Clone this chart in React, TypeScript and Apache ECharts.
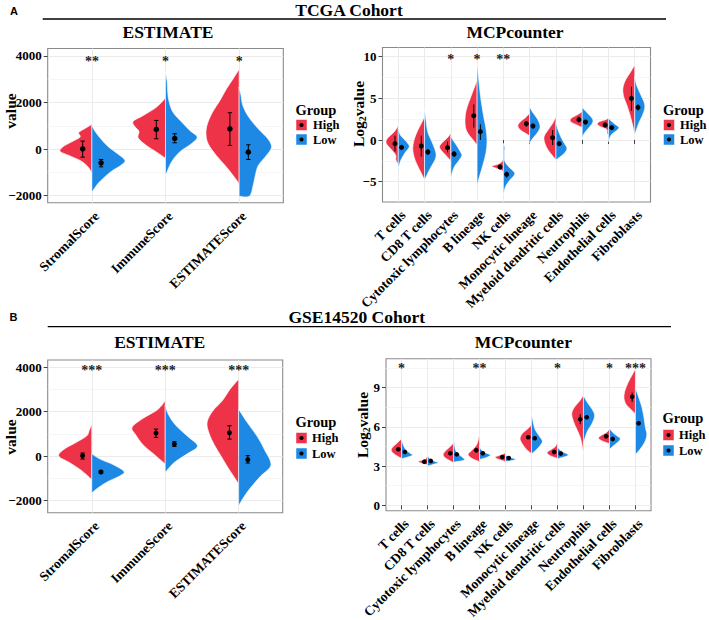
import React, { useEffect, useRef } from 'react';
import * as echarts from 'echarts';

// ---------- categories ----------
const estCats = ['StromalScore', 'ImmuneScore', 'ESTIMATEScore'];
const mcpCats = [
  'T cells', 'CD8 T cells', 'Cytotoxic lymphocytes', 'B lineage', 'NK cells',
  'Monocytic lineage', 'Myeloid dendritic cells', 'Neutrophils', 'Endothelial cells', 'Fibroblasts',
];
const groupNames = ['High', 'Low'];

// ---------- violin outlines: [value, half width in category units], bottom to top ----------
// TCGA / ESTIMATE
const tcgaEstHighShape = [
  [[-1018, 0], [-731, 0.06], [-488, 0.16], [-272, 0.31], [-100, 0.43], [86, 0.4], [301, 0.28], [516, 0.16], [703, 0.18], [875, 0.1], [1061, 0]],
  [[-387, 0], [-129, 0.12], [158, 0.26], [473, 0.37], [760, 0.36], [946, 0.41], [1190, 0.44], [1448, 0.3], [1807, 0.12], [2194, 0]],
  [[-1491, 0], [-1133, 0.08], [-703, 0.19], [-272, 0.31], [229, 0.42], [660, 0.45], [1090, 0.43], [1592, 0.36], [2094, 0.26], [2596, 0.17], [3026, 0.08], [3427, 0]],
];
const tcgaEstLowShape = [
  [[-1850, 0], [-1491, 0.08], [-1205, 0.17], [-918, 0.28], [-703, 0.39], [-488, 0.45], [-201, 0.35], [86, 0.23], [373, 0.14], [731, 0.05], [1018, 0]],
  [[-1133, 0], [-559, 0.08], [-129, 0.19], [229, 0.35], [516, 0.43], [803, 0.33], [1162, 0.22], [1592, 0.1], [2094, 0.045], [2452, 0.03], [2900, 0.022], [3313, 0]],
  [[-2022, 0], [-2022, 0.14], [-1563, 0.19], [-1133, 0.22], [-703, 0.26], [-272, 0.37], [86, 0.44], [445, 0.39], [875, 0.26], [1377, 0.13], [1879, 0.05], [2309, 0.025], [2667, 0]],
];
const tcgaEstHighMean = [14, 846, 875];
const tcgaEstHighLo = [-344, 445, 158];
const tcgaEstHighHi = [344, 1233, 1563];
const tcgaEstLowMean = [-588, 459, -129];
const tcgaEstLowLo = [-760, 272, -445];
const tcgaEstLowHi = [-445, 660, 186];
const tcgaEstStars = ['**', '*', '*'];

// TCGA / MCPcounter
const tcgaMcpHighShape = [
  [[-2.92, 0], [-2.4, 0.09], [-1.8, 0.1], [-1.08, 0.28], [-0.4, 0.46], [0.2, 0.41], [1.0, 0.15], [1.72, 0]],
  [[-4.8, 0], [-4.0, 0.12], [-3.0, 0.28], [-2.0, 0.4], [-1.0, 0.45], [0, 0.4], [1.0, 0.28], [2.0, 0.12], [2.8, 0]],
  [[-2.5, 0], [-1.8, 0.2], [-1.3, 0.35], [-0.8, 0.43], [-0.3, 0.32], [0.3, 0.12], [0.8, 0]],
  [[-0.6, 0], [0, 0.15], [0.8, 0.35], [1.5, 0.44], [2.5, 0.46], [3.5, 0.42], [4.5, 0.32], [5.5, 0.2], [6.5, 0.08], [7.2, 0]],
  [[-3.8, 0], [-3.6, 0.08], [-3.35, 0.3], [-3.15, 0.44], [-2.9, 0.2], [-2.6, 0.06], [-2.2, 0]],
  [[0.5, 0], [0.8, 0.15], [1.2, 0.35], [1.7, 0.45], [2.2, 0.35], [2.7, 0.15], [3.2, 0]],
  [[-2.4, 0], [-1.8, 0.15], [-1.2, 0.3], [-0.4, 0.42], [0.4, 0.45], [1.2, 0.3], [2.0, 0.12], [2.8, 0]],
  [[1.5, 0], [1.8, 0.2], [2.2, 0.44], [2.6, 0.42], [3.0, 0.2], [3.4, 0]],
  [[0.6, 0], [0.8, 0.05], [1.3, 0.07], [1.6, 0.3], [1.9, 0.42], [2.2, 0.35], [2.5, 0.06], [2.8, 0]],
  [[0.6, 0], [1.8, 0.08], [3.0, 0.18], [4.2, 0.3], [5.2, 0.42], [6.2, 0.45], [7.2, 0.35], [8.2, 0.15], [9.0, 0]],
];
const tcgaMcpLowShape = [
  [[-3.4, 0], [-2.4, 0.1], [-1.48, 0.27], [-0.8, 0.42], [-0.2, 0.31], [0.6, 0.08], [1.48, 0]],
  [[-4.8, 0], [-3.5, 0.2], [-2.5, 0.38], [-1.8, 0.44], [-1.0, 0.38], [0, 0.25], [1.0, 0.12], [2.5, 0.05], [3.8, 0]],
  [[-4.5, 0], [-3.3, 0.12], [-2.5, 0.3], [-1.9, 0.42], [-1.5, 0.38], [-0.8, 0.25], [0, 0.08], [0.5, 0]],
  [[-5.5, 0], [-4.5, 0.08], [-3, 0.22], [-1.5, 0.34], [0, 0.38], [1.5, 0.33], [3, 0.24], [5, 0.14], [7, 0.07], [9.2, 0]],
  [[-6.6, 0], [-5.6, 0.08], [-4.8, 0.25], [-4.2, 0.42], [-3.8, 0.4], [-3.2, 0.2], [-2.5, 0.05], [-1.5, 0.04], [-0.9, 0.05], [-0.4, 0]],
  [[-0.4, 0], [0.2, 0.12], [0.8, 0.28], [1.6, 0.4], [2.5, 0.3], [3.3, 0.12], [4.0, 0]],
  [[-2.4, 0], [-1.6, 0.32], [-1.0, 0.42], [-0.5, 0.34], [0.3, 0.2], [1.2, 0.08], [2.1, 0]],
  [[0.3, 0], [0.9, 0.1], [1.5, 0.26], [2.1, 0.4], [2.6, 0.38], [3.3, 0.18], [3.9, 0]],
  [[-0.2, 0], [0.6, 0.1], [1.1, 0.3], [1.5, 0.4], [1.9, 0.25], [2.4, 0.06], [2.8, 0]],
  [[0.6, 0], [2.0, 0.15], [3.0, 0.3], [3.8, 0.38], [4.5, 0.36], [5.5, 0.22], [6.5, 0.08], [7.6, 0]],
];
const tcgaMcpHighMean = [-0.44, -0.72, -0.92, 2.92, -3.24, 1.96, 0.28, 2.44, 1.8, 5.0];
const tcgaMcpHighLo = [-1.4, -2.0, -1.48, 1.48, -3.52, 1.6, -0.6, 2.12, 1.56, 3.52];
const tcgaMcpHighHi = [0.52, 0.52, -0.2, 4.28, -2.92, 2.28, 1.2, 2.8, 2.08, 6.4];
const tcgaMcpLowMean = [-0.88, -1.44, -1.68, 1.0, -4.12, 1.68, -0.44, 2.16, 1.48, 3.92];
const tcgaMcpLowLo = [-1.2, -1.8, -2.04, 0, -4.52, 1.4, -0.68, 1.88, 1.24, 3.52];
const tcgaMcpLowHi = [-0.6, -1.08, -1.32, 1.88, -3.8, 1.96, -0.12, 2.4, 1.76, 4.28];
const tcgaMcpStars = ['', '', '*', '*', '**', '', '', '', '', ''];

// GSE14520 / ESTIMATE
const gseEstHighShape = [
  [[-1060, 0], [-650, 0.14], [-300, 0.3], [0, 0.45], [300, 0.38], [600, 0.22], [900, 0.07], [1150, 0.035], [1440, 0]],
  [[-360, 0], [100, 0.16], [500, 0.3], [950, 0.4], [1300, 0.45], [1700, 0.3], [2100, 0.1], [2490, 0]],
  [[-1260, 0], [-1000, 0.05], [-500, 0.15], [0, 0.24], [500, 0.33], [1000, 0.4], [1500, 0.43], [2000, 0.36], [2500, 0.22], [3000, 0.12], [3465, 0]],
];
const gseEstLowShape = [
  [[-1665, 0], [-1400, 0.1], [-1150, 0.22], [-900, 0.38], [-700, 0.44], [-400, 0.3], [-150, 0.12], [100, 0]],
  [[-735, 0], [-300, 0.12], [100, 0.3], [450, 0.44], [900, 0.3], [1400, 0.14], [1900, 0.04], [2300, 0]],
  [[-2235, 0], [-1800, 0.08], [-1400, 0.17], [-900, 0.3], [-400, 0.44], [300, 0.35], [900, 0.25], [1500, 0.12], [2115, 0]],
];
const gseEstHighMean = [15, 1035, 1050];
const gseEstHighLo = [-135, 840, 765];
const gseEstHighHi = [135, 1215, 1365];
const gseEstLowMean = [-720, 540, -165];
const gseEstLowLo = [-780, 435, -315];
const gseEstLowHi = [-660, 645, 15];
const gseEstStars = ['***', '***', '***'];

// GSE14520 / MCPcounter
const gseMcpHighShape = [
  [[3.6, 0], [3.75, 0.15], [4.0, 0.33], [4.25, 0.4], [4.5, 0.32], [4.8, 0.15], [5.1, 0]],
  [[3.1, 0], [3.2, 0.2], [3.35, 0.36], [3.5, 0.12], [3.7, 0.03], [3.95, 0]],
  [[3.27, 0], [3.4, 0.12], [3.6, 0.3], [3.85, 0.4], [4.1, 0.34], [4.4, 0.18], [4.75, 0]],
  [[3.34, 0], [3.6, 0.3], [3.9, 0.44], [4.2, 0.3], [4.6, 0.12], [5.0, 0.05], [5.45, 0]],
  [[3.35, 0], [3.55, 0.3], [3.7, 0.4], [3.85, 0.18], [4.0, 0]],
  [[3.96, 0], [4.3, 0.2], [4.7, 0.35], [5.1, 0.44], [5.5, 0.35], [5.85, 0.15], [6.15, 0]],
  [[3.6, 0], [3.8, 0.28], [4.05, 0.4], [4.3, 0.22], [4.5, 0.08], [4.8, 0]],
  [[4.0, 0], [4.6, 0.05], [5.2, 0.12], [5.8, 0.25], [6.4, 0.38], [7.0, 0.45], [7.5, 0.35], [8.0, 0.14], [8.45, 0]],
  [[4.72, 0], [4.95, 0.3], [5.15, 0.42], [5.35, 0.32], [5.6, 0.1], [5.85, 0]],
  [[7.0, 0], [7.3, 0.15], [7.7, 0.35], [8.2, 0.44], [8.8, 0.4], [9.4, 0.28], [10.0, 0.12], [10.45, 0]],
];
const gseMcpLowShape = [
  [[3.57, 0], [3.7, 0.25], [3.85, 0.42], [4.0, 0.32], [4.3, 0.15], [4.7, 0.05], [5.1, 0]],
  [[3.0, 0], [3.12, 0.2], [3.25, 0.42], [3.35, 0.3], [3.55, 0.1], [3.8, 0]],
  [[3.3, 0], [3.45, 0.4], [3.6, 0.38], [3.9, 0.2], [4.2, 0.08], [4.6, 0.04], [5.05, 0]],
  [[3.52, 0], [3.65, 0.25], [3.85, 0.42], [4.05, 0.2], [4.3, 0.05], [4.6, 0]],
  [[3.35, 0], [3.45, 0.3], [3.55, 0.38], [3.7, 0.12], [3.85, 0]],
  [[3.96, 0], [4.1, 0.1], [4.5, 0.3], [4.9, 0.42], [5.3, 0.3], [5.8, 0.14], [6.4, 0.06], [7.0, 0]],
  [[3.57, 0], [3.7, 0.25], [3.85, 0.42], [4.0, 0.3], [4.2, 0.12], [4.45, 0]],
  [[4.7, 0], [5.1, 0.05], [5.7, 0.16], [6.3, 0.34], [6.85, 0.43], [7.3, 0.35], [7.9, 0.14], [8.4, 0]],
  [[4.29, 0], [4.5, 0.12], [4.8, 0.3], [5.1, 0.42], [5.3, 0.3], [5.6, 0.12], [5.9, 0]],
  [[3.9, 0], [4.3, 0.18], [4.8, 0.35], [5.4, 0.44], [6.0, 0.38], [6.7, 0.33], [7.5, 0.25], [8.3, 0.12], [9.0, 0]],
];
const gseMcpHighMean = [4.29, 3.34, 3.98, 4.21, 3.7, 5.21, 4.08, 6.59, 5.28, 8.3];
const gseMcpHighLo = [4.15, 3.26, 3.86, 4.05, 3.6, 5.08, 3.96, 6.2, 5.16, 7.91];
const gseMcpHighHi = [4.43, 3.42, 4.1, 4.37, 3.8, 5.34, 4.2, 6.97, 5.4, 8.63];
const gseMcpLowMean = [4.08, 3.4, 3.9, 3.98, 3.62, 5.13, 3.96, 6.74, 5.08, 6.28];
const gseMcpLowLo = [4.0, 3.32, 3.82, 3.9, 3.56, 5.03, 3.88, 6.62, 5.0, 6.16];
const gseMcpLowHi = [4.16, 3.48, 3.98, 4.06, 3.68, 5.23, 4.04, 6.86, 5.16, 6.4];
const gseMcpStars = ['*', '', '', '**', '', '', '*', '', '*', '***'];

// ---------- styling ----------
const RED = '#EE3349';
const BLUE = '#1E88E5';
const SERIF = '"Liberation Serif", "Times New Roman", Times, serif';
const SANS = '"Liberation Sans", Arial, Helvetica, sans-serif';
const DODGE = 0.125;

function outlinePath(pts: number[][], cx: number, sign: number): string {
  const clamp = (x: number) => (sign < 0 ? Math.min(x, cx) : Math.max(x, cx));
  let d = `M${pts[0][0]},${pts[0][1]}`;
  for (let i = 0; i < pts.length - 1; i++) {
    const p0 = pts[i - 1] || pts[i];
    const p1 = pts[i];
    const p2 = pts[i + 1];
    const p3 = pts[i + 2] || pts[i + 1];
    const c1x = clamp(p1[0] + (p2[0] - p0[0]) / 6);
    const c1y = p1[1] + (p2[1] - p0[1]) / 6;
    const c2x = clamp(p2[0] - (p3[0] - p1[0]) / 6);
    const c2y = p2[1] - (p3[1] - p1[1]) / 6;
    d += ` C${c1x},${c1y} ${c2x},${c2y} ${p2[0]},${p2[1]}`;
  }
  return d + ' Z';
}

interface Panel {
  cats: string[];
  highShape: number[][][];
  lowShape: number[][][];
  highMean: number[]; highLo: number[]; highHi: number[];
  lowMean: number[]; lowLo: number[]; lowHi: number[];
  stars: string[];
  starY: number;
  yMin: number; yMax: number; yStep: number;
  grid: { left: number; top: number; width: number; height: number };
  dot: number; cap: number;
}

const panels: Panel[] = [
  {
    cats: estCats, highShape: tcgaEstHighShape, lowShape: tcgaEstLowShape,
    highMean: tcgaEstHighMean, highLo: tcgaEstHighLo, highHi: tcgaEstHighHi,
    lowMean: tcgaEstLowMean, lowLo: tcgaEstLowLo, lowHi: tcgaEstLowHi,
    stars: tcgaEstStars, starY: 3760, yMin: -2305, yMax: 4322, yStep: 2000,
    grid: { left: 47.7, top: 48.5, width: 235.6, height: 154.3 }, dot: 5.5, cap: 2.2,
  },
  {
    cats: mcpCats, highShape: tcgaMcpHighShape, lowShape: tcgaMcpLowShape,
    highMean: tcgaMcpHighMean, highLo: tcgaMcpHighLo, highHi: tcgaMcpHighHi,
    lowMean: tcgaMcpLowMean, lowLo: tcgaMcpLowLo, lowHi: tcgaMcpLowHi,
    stars: tcgaMcpStars, starY: 9.72, yMin: -7.44, yMax: 11.1, yStep: 5,
    grid: { left: 382.5, top: 47.5, width: 268, height: 154.5 }, dot: 5, cap: 0,
  },
  {
    cats: estCats, highShape: gseEstHighShape, lowShape: gseEstLowShape,
    highMean: gseEstHighMean, highLo: gseEstHighLo, highHi: gseEstHighHi,
    lowMean: gseEstLowMean, lowLo: gseEstLowLo, lowHi: gseEstLowHi,
    stars: gseEstStars, starY: 3840, yMin: -2555, yMax: 4330, yStep: 2000,
    grid: { left: 47.7, top: 360, width: 235, height: 152.7 }, dot: 5, cap: 2.2,
  },
  {
    cats: mcpCats, highShape: gseMcpHighShape, lowShape: gseMcpLowShape,
    highMean: gseMcpHighMean, highLo: gseMcpHighLo, highHi: gseMcpHighHi,
    lowMean: gseMcpLowMean, lowLo: gseMcpLowLo, lowHi: gseMcpLowHi,
    stars: gseMcpStars, starY: 10.5, yMin: -0.41, yMax: 11.22, yStep: 3,
    grid: { left: 386, top: 358.7, width: 265, height: 152 }, dot: 4.6, cap: 0,
  },
];

const labelFont = { fontFamily: SERIF, fontWeight: 'bold' as const, color: '#000' };

function panelSeries(g: number, p: Panel): any[] {
  const violin = (shapes: number[][][], sign: number, color: string, name: string, means: number[]) => ({
    type: 'custom', name, xAxisIndex: g, yAxisIndex: g, clip: false, silent: true, z: 2,
    data: shapes.map((_, i) => [i + 1, means[i]]),
    encode: { x: 0, y: 1 },
    renderItem: (params: any, api: any) => {
      const x = api.value(0);
      const shape = shapes[params.dataIndex];
      const pts = shape.map(([v, w]) => api.coord([x + sign * w, v]));
      const cx = api.coord([x, shape[0][0]])[0];
      return {
        type: 'path',
        shape: { pathData: outlinePath(pts, cx, sign) },
        style: { fill: color, stroke: '#ffffff', lineWidth: 0.6 },
      };
    },
  });
  const errBars = (means: number[], lo: number[], hi: number[], off: number, name: string) => ({
    type: 'custom', name, xAxisIndex: g, yAxisIndex: g, clip: false, silent: true, z: 3,
    data: means.map((_, i) => [i + 1 + off, lo[i], hi[i]]),
    encode: { x: 0, y: [1, 2] },
    renderItem: (params: any, api: any) => {
      const a = api.coord([api.value(0), api.value(1)]);
      const b = api.coord([api.value(0), api.value(2)]);
      const st = { stroke: '#000', lineWidth: 1 };
      const kids: any[] = [{ type: 'line', shape: { x1: a[0], y1: a[1], x2: b[0], y2: b[1] }, style: st }];
      if (p.cap > 0) {
        kids.push({ type: 'line', shape: { x1: a[0] - p.cap, y1: a[1], x2: a[0] + p.cap, y2: a[1] }, style: st });
        kids.push({ type: 'line', shape: { x1: b[0] - p.cap, y1: b[1], x2: b[0] + p.cap, y2: b[1] }, style: st });
      }
      return { type: 'group', children: kids };
    },
  });
  const points = (means: number[], off: number, name: string) => ({
    type: 'scatter', name, xAxisIndex: g, yAxisIndex: g, silent: true, z: 4,
    symbol: 'circle', symbolSize: p.dot,
    itemStyle: { color: '#000', opacity: 1 },
    data: means.map((m, i) => [i + 1 + off, m]),
  });
  const starItems = p.stars.map((s, i) => ({ s, i })).filter((d) => d.s !== '');
  const stars = {
    type: 'custom', name: 'signif', xAxisIndex: g, yAxisIndex: g, clip: false, silent: true, z: 5,
    data: starItems.map((d) => [d.i + 1, p.starY]),
    encode: { x: 0, y: 1 },
    renderItem: (params: any, api: any) => {
      const c = api.coord([api.value(0), api.value(1)]);
      return {
        type: 'text', x: c[0], y: c[1],
        style: {
          text: starItems[params.dataIndex].s, fill: '#222', fontSize: 14, fontFamily: SERIF, fontWeight: 'bold',
          align: 'center', verticalAlign: 'middle', textAlign: 'center', textVerticalAlign: 'middle',
        },
      };
    },
  };
  return [
    violin(p.highShape, -1, RED, groupNames[0], p.highMean),
    violin(p.lowShape, 1, BLUE, groupNames[1], p.lowMean),
    errBars(p.highMean, p.highLo, p.highHi, -DODGE, groupNames[0] + ' sd'),
    errBars(p.lowMean, p.lowLo, p.lowHi, DODGE, groupNames[1] + ' sd'),
    points(p.highMean, -DODGE, groupNames[0] + ' mean'),
    points(p.lowMean, DODGE, groupNames[1] + ' mean'),
    stars,
  ];
}

function txt(text: string, x: number, y: number, size: number, opts: any = {}) {
  return {
    type: 'text', x, y, rotation: opts.rotation || 0, silent: true,
    style: {
      text, fill: '#000', fontSize: size, fontFamily: opts.family || SERIF, fontWeight: 'bold',
      align: opts.align || 'center', verticalAlign: 'middle',
      textAlign: opts.align || 'center', textVerticalAlign: 'middle',
      rich: opts.rich,
    },
  };
}

function legendEls(keyX: number, titleY: number, redTop: number, blueTop: number, textX: number) {
  const els: any[] = [txt('Group', keyX - 0.5, titleY, 14.5, { align: 'left' })];
  [[redTop, RED, groupNames[0]], [blueTop, BLUE, groupNames[1]]].forEach(([top, col, name]: any) => {
    els.push({ type: 'rect', silent: true, shape: { x: keyX, y: top, width: 11, height: 11 }, style: { fill: col, stroke: '#fff', lineWidth: 0.5 } });
    els.push({ type: 'circle', silent: true, shape: { cx: keyX + 5.5, cy: top + 5.5, r: 2.1 }, style: { fill: '#000' } });
    els.push(txt(name, textX, top + 5.7, 12.5, { align: 'left' }));
  });
  return els;
}

const log2Rich = {
  a: { fontSize: 15.5, fontFamily: SERIF, fontWeight: 'bold', lineHeight: 18, fill: '#000' },
  s: { fontSize: 10, fontFamily: SERIF, fontWeight: 'bold', lineHeight: 8, verticalAlign: 'bottom', fill: '#000' },
};

const graphicEls: any[] = [
  txt('A', 10, 10.8, 11, { align: 'left', family: SANS }),
  txt('B', 9.5, 316.8, 11, { align: 'left', family: SANS }),
  txt('TCGA Cohort', 349, 10, 17.5),
  { type: 'line', silent: true, shape: { x1: 42.7, y1: 19, x2: 666, y2: 19 }, style: { stroke: '#000', lineWidth: 1.3 } },
  txt('ESTIMATE', 168, 31.7, 17.5),
  txt('MCPcounter', 515, 32, 17.5),
  txt('GSE14520 Cohort', 356.7, 316.7, 17.5),
  { type: 'line', silent: true, shape: { x1: 47.7, y1: 326.7, x2: 671, y2: 326.7 }, style: { stroke: '#000', lineWidth: 1.3 } },
  txt('ESTIMATE', 159.7, 342, 17.5),
  txt('MCPcounter', 523.3, 341.7, 17.5),
  txt('value', 10, 111, 15.5, { rotation: Math.PI / 2 }),
  txt('{a|Log}{s|2}{a|value}', 358.5, 114, 15.5, { rotation: Math.PI / 2, rich: log2Rich }),
  txt('value', 10.5, 437, 15.5, { rotation: Math.PI / 2 }),
  txt('{a|Log}{s|2}{a|value}', 362, 425, 15.5, { rotation: Math.PI / 2, rich: log2Rich }),
  ...legendEls(296, 110, 119.5, 134, 313),
  ...legendEls(663.5, 110, 119.5, 134, 680),
  ...legendEls(296, 422.3, 432.5, 448, 312),
  ...legendEls(663, 418.3, 429.5, 445, 679),
];

function yTickValues(p: Panel): number[] {
  const out: number[] = [];
  for (let v = Math.ceil(p.yMin / p.yStep) * p.yStep; v <= p.yMax + 1e-9; v += p.yStep) out.push(v);
  return out;
}

function buildOption() {
  return {
    animation: false,
    backgroundColor: '#fff',
    grid: panels.map((p) => ({
      ...p.grid, show: true, borderColor: '#8a8a8a', borderWidth: 1.1, backgroundColor: '#fff',
      containLabel: false, outerBoundsMode: 'none',
    })),
    xAxis: panels.map((p, g) => {
      const ticks = p.cats.map((_, i) => i + 1);
      return {
        type: 'value', gridIndex: g, min: 0.4, max: p.cats.length + 0.6, minInterval: 1, maxInterval: 1,
        axisLine: { show: false },
        axisTick: { show: true, length: 4, customValues: ticks, lineStyle: { color: '#444', width: 1 } },
        axisLabel: {
          ...labelFont, fontSize: 13.5, rotate: 45, margin: 6, align: 'right', verticalAlign: 'top',
          customValues: ticks,
          formatter: (v: number) => {
            const r = Math.round(v);
            return Math.abs(v - r) < 1e-6 && r >= 1 && r <= p.cats.length ? p.cats[r - 1] : '';
          },
        },
        splitLine: { show: true, lineStyle: { color: '#EBEBEB', width: 1 } },
      };
    }),
    yAxis: panels.map((p, g) => {
      const ticks = yTickValues(p);
      return {
        type: 'value', gridIndex: g, min: p.yMin, max: p.yMax, minInterval: p.yStep, maxInterval: p.yStep,
        axisLine: { show: false },
        axisTick: { show: true, length: 4, customValues: ticks, lineStyle: { color: '#444', width: 1 } },
        axisLabel: {
          ...labelFont, fontSize: 13, margin: 6, customValues: ticks,
          formatter: (v: number) => {
            const r = Math.round(v / p.yStep) * p.yStep;
            if (Math.abs(v - r) > 1e-6 * p.yStep) return '';
            return r < 0 ? '\u2212' + Math.abs(r) : String(r);
          },
        },
        splitLine: { show: true, lineStyle: { color: '#EBEBEB', width: 1 } },
        minorTick: { show: false, splitNumber: 2 },
        minorSplitLine: { show: true, lineStyle: { color: '#F2F2F2', width: 0.7 } },
      };
    }),
    series: panels.flatMap((p, g) => panelSeries(g, p)),
    graphic: { elements: graphicEls },
  };
}

export default function App() {
  const ref = useRef<HTMLDivElement>(null);
  useEffect(() => {
    if (!ref.current) return;
    const chart = echarts.init(ref.current, undefined, { renderer: 'svg' });
    chart.setOption(buildOption() as any);
    return () => chart.dispose();
  }, []);
  return (
    <div
      ref={ref}
      style={{ position: 'absolute', left: 0, top: 0, width: 709, height: 620, background: '#fff' }}
    />
  );
}
